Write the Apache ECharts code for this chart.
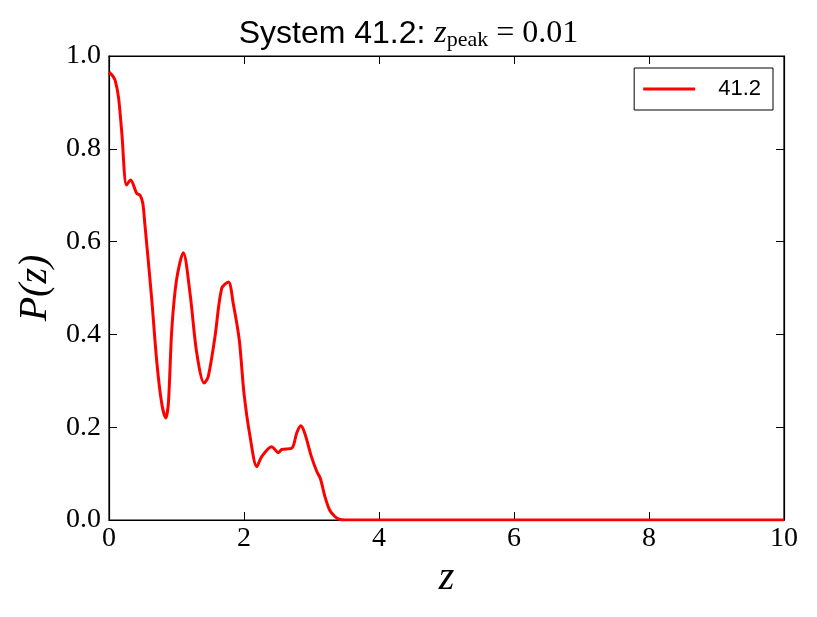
<!DOCTYPE html>
<html><head><meta charset="utf-8">
<script src="https://cdn.jsdelivr.net/npm/echarts@6/dist/echarts.min.js"></script>
<style>html,body{margin:0;padding:0;background:#fff}#c{width:817px;height:617px}</style>
</head><body><div id="c"></div>
<script>
const zValues = [0.00,0.05,0.09,0.14,0.19,0.26,0.32,0.41,0.46,0.50,0.53,0.63,0.71,0.78,0.84,0.88,0.93,1.00,1.10,1.20,1.30,1.41,1.47,1.57,1.67,1.77,1.84,1.93,2.00,2.09,2.19,2.26,2.41,2.51,2.56,2.71,2.78,2.84,2.90,3.00,3.08,3.13,3.20,3.27,3.35,3.42,3.50,4.00,5.00,6.00,7.00,8.00,9.00,10.00];
const pValues = [0.965,0.958,0.948,0.912,0.834,0.722,0.733,0.704,0.700,0.683,0.640,0.481,0.338,0.252,0.220,0.252,0.410,0.517,0.576,0.489,0.360,0.295,0.309,0.395,0.499,0.513,0.467,0.388,0.273,0.180,0.115,0.136,0.158,0.145,0.152,0.155,0.187,0.203,0.187,0.136,0.104,0.090,0.050,0.021,0.007,0.001,0.000,0.000,0.000,0.000,0.000,0.000,0.000,0.000];
const seriesName = '41.2';
const xTicks = [0,2,4,6,8,10];
const yTicks = [0.0,0.2,0.4,0.6,0.8,1.0];

const serif = 'Liberation Serif';
const chart = echarts.init(document.getElementById('c'));
const axisCommon = {
  axisLine:{show:true,onZero:false,lineStyle:{color:'#000',width:1.2}},
  axisTick:{show:true,inside:true,length:8,lineStyle:{color:'#000',width:1}},
  splitLine:{show:false}
};
chart.setOption({
  animation:false,
  backgroundColor:'#fff',
  title:{
    text:'{s|System 41.2: }{m|z}{sub|peak}{m2| = 0.01}',
    left:'center', top:12,
    textStyle:{fontWeight:'normal',rich:{
      s:{fontFamily:'Liberation Sans',fontWeight:'normal',fontSize:32,color:'#000'},
      m:{fontFamily:serif,fontStyle:'italic',fontWeight:'normal',fontSize:32,color:'#000'},
      sub:{fontFamily:serif,fontWeight:'normal',fontSize:22,color:'#000',verticalAlign:'bottom',padding:[12,0,0,0]},
      m2:{fontFamily:serif,fontWeight:'normal',fontSize:32,color:'#000'}
    }}
  },
  grid:{left:109,right:33,top:56,bottom:97,show:true,borderColor:'#000',borderWidth:1.2,containLabel:false,outerBoundsMode:'none'},
  legend:{
    data:[seriesName], right:44, top:68,
    orient:'vertical',
    itemWidth:52, itemHeight:3, itemGap:0,
    padding:[10,12,10,9],
    borderColor:'#000', borderWidth:1, borderRadius:0,
    backgroundColor:'#fff',
    icon:'rect',
    textStyle:{fontFamily:'Liberation Sans',fontSize:22,color:'#000',padding:[0,0,0,18]}
  },
  xAxis:[{
    type:'value',min:0,max:10,interval:2,position:'bottom',
    name:'z',nameLocation:'middle',nameGap:38,
    nameTextStyle:{fontFamily:serif,fontStyle:'italic',fontSize:40,color:'#000'},
    axisLabel:{fontFamily:serif,fontSize:28,color:'#000',margin:5,formatter:v=>String(v)},
    ...axisCommon
  },{
    type:'value',min:0,max:10,interval:2,position:'top',
    axisLabel:{show:false},...axisCommon
  }],
  yAxis:[{
    type:'value',min:0,max:1,interval:0.2,position:'left',
    name:'P(z)',nameLocation:'middle',nameGap:52,
    nameTextStyle:{fontFamily:serif,fontStyle:'italic',fontSize:40,color:'#000'},
    axisLabel:{fontFamily:serif,fontSize:28,color:'#000',margin:8,formatter:v=>v.toFixed(1)},
    ...axisCommon
  },{
    type:'value',min:0,max:1,interval:0.2,position:'right',
    axisLabel:{show:false},...axisCommon
  }],
  series:[{
    name:seriesName,type:'line',
    data:zValues.map((z,i)=>[z,pValues[i]]),
    smooth:0.3,showSymbol:false,symbol:'none',
    lineStyle:{color:'#ff0000',width:3},
    itemStyle:{color:'#ff0000'}
  }]
});
</script></body></html>
